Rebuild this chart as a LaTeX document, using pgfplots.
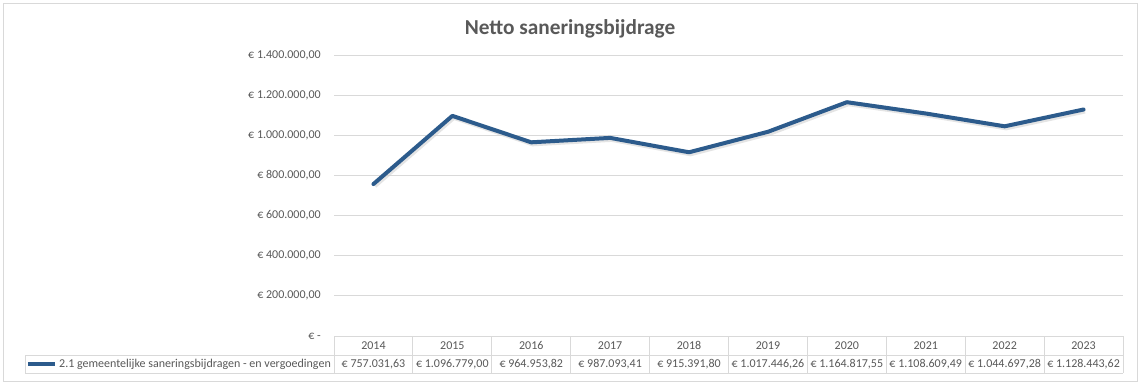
\documentclass[border=0pt]{standalone}
\usepackage{fontspec}
\setmainfont{Carlito}
\usepackage{pgfplots}
\pgfplotsset{compat=1.18}
\definecolor{txt}{HTML}{595959}
\definecolor{gridc}{HTML}{D9D9D9}
\definecolor{linec}{HTML}{2C5B8C}
\begin{document}
\begin{tikzpicture}
\path[use as bounding box, fill=white] (0,0) rectangle (1141bp,-386bp);
\draw[gridc, line width=1bp] (3bp,-3bp) rectangle (1137bp,-381bp);
\node[txt, font=\fontsize{21.3bp}{24bp}\selectfont\bfseries] at (570bp,-29bp) {Netto saneringsbijdrage};
\begin{axis}[
  at={(334bp,-336bp)}, anchor=south west,
  scale only axis, width=789bp, height=281bp,
  xmin=-0.5, xmax=9.5, ymin=0, ymax=1400000,
  clip=false,
  scaled y ticks=false,
  axis line style={draw=none},
  tick style={draw=none},
  ytick={0,200000,400000,600000,800000,1000000,1200000,1400000},
  yticklabels={{€ -},{€ 200.000,00},{€ 400.000,00},{€ 600.000,00},{€ 800.000,00},{€ 1.000.000,00},{€ 1.200.000,00},{€ 1.400.000,00}},
  ymajorgrids,
  grid style={gridc, line width=1bp},
  yticklabel style={font=\fontsize{12bp}{14bp}\selectfont, text=txt, inner sep=0pt, anchor=east, xshift=-13bp},
  xtick={0,1,2,3,4,5,6,7,8,9},
  xticklabels={2014,2015,2016,2017,2018,2019,2020,2021,2022,2023},
  xticklabel style={font=\fontsize{12bp}{14bp}\selectfont, text=txt, inner sep=0pt, anchor=center, yshift=-9.5bp},
  /pgf/number format/assume math mode=true,
]
\addplot[gray!35, opacity=0.6, line width=4bp, shift={(1.5bp,-2bp)}, forget plot] coordinates {
(0,757031.63) (1,1096779.00) (2,964953.82) (3,987093.41) (4,915391.80) (5,1017446.26) (6,1164817.55) (7,1108609.49) (8,1044697.28) (9,1128443.62)};
\addplot[linec, line width=4bp, line join=round, line cap=round] coordinates {
(0,757031.63) (1,1096779.00) (2,964953.82) (3,987093.41) (4,915391.80) (5,1017446.26) (6,1164817.55) (7,1108609.49) (8,1044697.28) (9,1128443.62)};
\end{axis}
% data table
\begin{scope}[gridc, line width=1bp]
\draw (334bp,-336bp) -- (1123bp,-336bp);
\draw (25bp,-355bp) -- (1123bp,-355bp);
\draw (25bp,-373bp) -- (1123bp,-373bp);
\draw (25bp,-355bp) -- (25bp,-373bp);
\foreach \k in {0,...,10} {\pgfmathsetmacro\xx{334+\k*78.9}\draw (\xx bp,-336bp) -- (\xx bp,-373bp);}
\end{scope}
\draw[linec, line width=4bp] (28bp,-364bp) -- (55bp,-364bp);
\begin{scope}[every node/.style={text=txt, font=\fontsize{12bp}{14bp}\selectfont, inner sep=0pt}]
\node[anchor=east] at (331bp,-364bp) {2.1 gemeentelijke saneringsbijdragen - en vergoedingen};
\foreach \k/\v in {0/{€ 757.031,63},1/{€ 1.096.779,00},2/{€ 964.953,82},3/{€ 987.093,41},4/{€ 915.391,80},5/{€ 1.017.446,26},6/{€ 1.164.817,55},7/{€ 1.108.609,49},8/{€ 1.044.697,28},9/{€ 1.128.443,62}} {
  \pgfmathsetmacro\xx{334+(\k+0.5)*78.9}
  \node at (\xx bp,-364bp) {\v};
}
\end{scope}
\end{tikzpicture}
\end{document}
